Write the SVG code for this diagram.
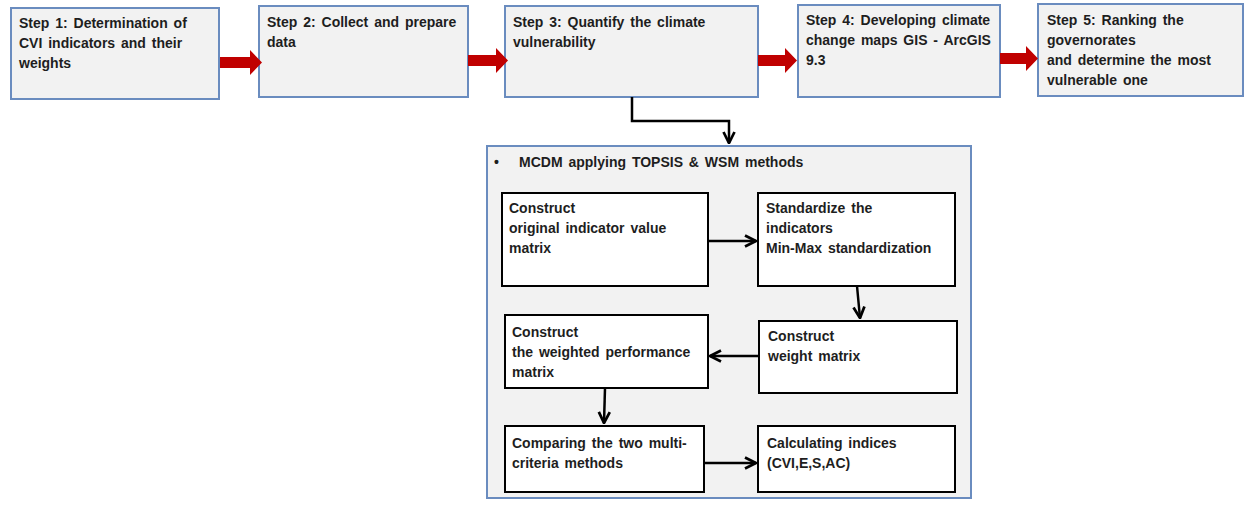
<svg xmlns="http://www.w3.org/2000/svg" width="1245" height="508" viewBox="0 0 1245 508">
<defs>
<style>
.step{fill:#f2f2f2;stroke:#6a8cbf;stroke-width:2}
.inner{fill:#ffffff;stroke:#000;stroke-width:2}
.t{font-family:"Liberation Sans",Arial,sans-serif;font-size:14px;font-weight:bold;fill:#1e1e1e;word-spacing:2px}
.red{fill:#c00000}
.con{fill:none;stroke:#000;stroke-width:2.5}
</style>
<marker id="ah" viewBox="0 0 10 10" refX="9" refY="5" markerWidth="5.5" markerHeight="5.5" orient="auto" markerUnits="strokeWidth">
<path d="M1,1 L9,5 L1,9" fill="none" stroke="#000" stroke-width="2"/>
</marker>
</defs>
<rect width="1245" height="508" fill="#fff"/>
<g id="step1"><rect class="step" x="11" y="8" width="208" height="91"/>
<text class="t" x="19" y="28">Step 1: Determination  of</text>
<text class="t" x="19" y="48">CVI indicators  and their</text>
<text class="t" x="19" y="68">weights</text></g>
<g id="step2"><rect class="step" x="259" y="6" width="209" height="91"/>
<text class="t" x="267" y="27">Step 2: Collect and prepare</text>
<text class="t" x="267" y="47">data</text></g>
<g id="step3"><rect class="step" x="505" y="6" width="253" height="91"/>
<text class="t" x="513" y="27">Step 3: Quantify the climate</text>
<text class="t" x="513" y="47">vulnerability</text></g>
<g id="step4"><rect class="step" x="798" y="5" width="202" height="92"/>
<text class="t" x="806" y="25">Step 4: Developing  climate</text>
<text class="t" x="806" y="45">change  maps GIS - ArcGIS</text>
<text class="t" x="806" y="65">9.3</text></g>
<g id="step5"><rect class="step" x="1038" y="4" width="205" height="92"/>
<text class="t" x="1047" y="25">Step 5: Ranking  the</text>
<text class="t" x="1047" y="45">governorates</text>
<text class="t" x="1047" y="65">and determine  the most</text>
<text class="t" x="1047" y="85">vulnerable  one</text></g>
<g id="mcdm"><rect class="step" x="487" y="146" width="484" height="352"/>
<text class="t" x="494" y="167" font-size="11">•</text>
<text class="t" x="519" y="167">MCDM  applying  TOPSIS &amp; WSM methods</text></g>
<g id="boxA"><rect class="inner" x="502" y="193" width="206" height="93"/>
<text class="t" x="509" y="213">Construct</text>
<text class="t" x="509" y="233">original indicator  value</text>
<text class="t" x="509" y="253">matrix</text></g>
<g id="boxB"><rect class="inner" x="758" y="193" width="197" height="93"/>
<text class="t" x="766" y="213">Standardize  the</text>
<text class="t" x="766" y="233">indicators</text>
<text class="t" x="766" y="253">Min-Max  standardization</text></g>
<g id="boxC"><rect class="inner" x="759" y="321" width="198" height="72"/>
<text class="t" x="768" y="341">Construct</text>
<text class="t" x="768" y="361">weight matrix</text></g>
<g id="boxD"><rect class="inner" x="505" y="315" width="203" height="73"/>
<text class="t" x="512" y="337">Construct</text>
<text class="t" x="512" y="357">the weighted  performance</text>
<text class="t" x="512" y="377">matrix</text></g>
<g id="boxE"><rect class="inner" x="505" y="426" width="199" height="66"/>
<text class="t" x="512" y="448">Comparing  the two multi-</text>
<text class="t" x="512" y="468">criteria  methods</text></g>
<g id="boxF"><rect class="inner" x="758" y="426" width="197" height="66"/>
<text class="t" x="767" y="448">Calculating  indices</text>
<text class="t" x="767" y="468">(CVI,E,S,AC)</text></g>
<g id="connectors">
<path class="red" d="M220,57 L250,57 L250,50 L262,62.5 L250,75 L250,68 L220,68 Z"/>
<path class="red" d="M468,55 L496,55 L496,48 L508,60.5 L496,73 L496,66 L468,66 Z"/>
<path class="red" d="M758,55 L785,55 L785,48 L797,60.5 L785,73 L785,66 L758,66 Z"/>
<path class="red" d="M1000,53 L1026,53 L1026,46 L1038,58.5 L1026,71 L1026,64 L1000,64 Z"/>
<path class="con" d="M632,97 L632,121 L729,121 L729,143" marker-end="url(#ah)"/>
<path class="con" d="M708,241 L756,241" marker-end="url(#ah)"/>
<path class="con" d="M857,286 L860,318" marker-end="url(#ah)"/>
<path class="con" d="M759,356 L710,356" marker-end="url(#ah)"/>
<path class="con" d="M605,388 L604,423" marker-end="url(#ah)"/>
<path class="con" d="M704,463 L756,463" marker-end="url(#ah)"/>
</g>
</svg>
